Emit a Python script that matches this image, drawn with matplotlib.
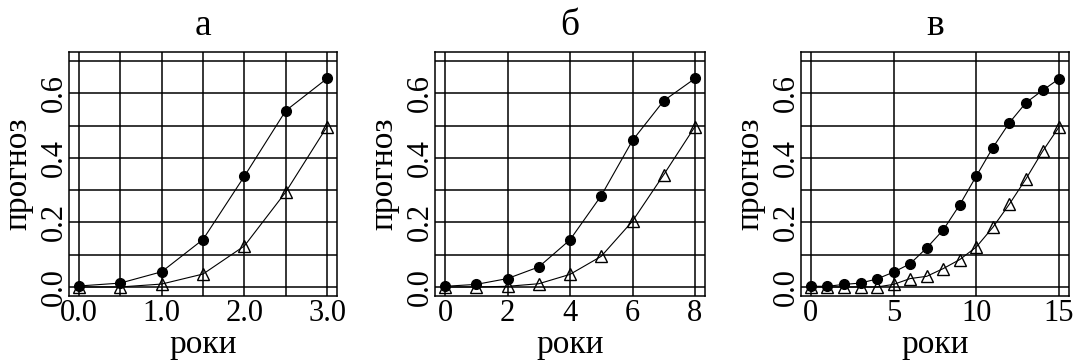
import matplotlib
matplotlib.use("Agg")
import matplotlib.pyplot as plt
from matplotlib.ticker import FixedLocator, FixedFormatter

plt.rcParams['font.family'] = ['Liberation Serif', 'DejaVu Serif']

titles = ["а", "б", "в"]
xlabel = "роки"
ylabel = "прогноз"

years_a = [0.0, 0.5, 1.0, 1.5, 2.0, 2.5, 3.0]
circ_a = [0.003, 0.012, 0.047, 0.147, 0.343, 0.546, 0.646]
tri_a = [0.0, 0.0, 0.009, 0.040, 0.127, 0.294, 0.497]

years_b = [0, 1, 2, 3, 4, 5, 6, 7, 8]
circ_b = [0.002, 0.008, 0.026, 0.062, 0.146, 0.283, 0.454, 0.577, 0.646]
tri_b = [0.0, 0.0, 0.002, 0.010, 0.039, 0.095, 0.204, 0.348, 0.497]

years_c = list(range(16))
circ_c = [0.002, 0.002, 0.008, 0.012, 0.025, 0.046, 0.072, 0.121, 0.177,
          0.255, 0.344, 0.432, 0.509, 0.571, 0.609, 0.645]
tri_c = [0.0, 0.0, 0.0, 0.0, 0.0, 0.008, 0.026, 0.033, 0.057, 0.085,
         0.124, 0.185, 0.257, 0.335, 0.420, 0.496]

xtick_a = [0.0, 1.0, 2.0, 3.0]
xticklabels_a = ["0.0", "1.0", "2.0", "3.0"]
xgrid_a = [0.5, 1.5, 2.5]
xtick_b = [0, 2, 4, 6, 8]
xticklabels_b = ["0", "2", "4", "6", "8"]
xgrid_b = []
xtick_c = [0, 5, 10, 15]
xticklabels_c = ["0", "5", "10", "15"]
xgrid_c = []

ytick = [0.0, 0.2, 0.4, 0.6]
yticklabels = ["0.0", "0.2", "0.4", "0.6"]
ygrid_minor = [0.1, 0.3, 0.5, 0.7]

panels = [
    (years_a, circ_a, tri_a, xtick_a, xticklabels_a, xgrid_a),
    (years_b, circ_b, tri_b, xtick_b, xticklabels_b, xgrid_b),
    (years_c, circ_c, tri_c, xtick_c, xticklabels_c, xgrid_c),
]

W, H = 1073, 360
fig = plt.figure(figsize=(W / 100, H / 100), dpi=100)

boxes = [(69, 337), (435, 705), (801, 1069)]
top_px, bot_px = 52, 296

for i, (x, c, t, xt, xtl, xg) in enumerate(panels):
    l, r = boxes[i]
    wpx = r - l
    hpx = bot_px - top_px
    ax = fig.add_axes([l / W, 1 - bot_px / H, wpx / W, hpx / H])
    xmin, xmax = min(x), max(x)
    rng = xmax - xmin
    ax.set_xlim(xmin - 0.04 * rng, xmax + 0.04 * rng)
    ax.set_ylim(-0.028, 0.728)

    ax.xaxis.set_major_locator(FixedLocator(xt))
    ax.xaxis.set_major_formatter(FixedFormatter(xtl))
    ax.xaxis.set_minor_locator(FixedLocator(xg))
    ax.yaxis.set_major_locator(FixedLocator(ytick))
    ax.yaxis.set_major_formatter(FixedFormatter(yticklabels))
    ax.yaxis.set_minor_locator(FixedLocator(ygrid_minor))

    ax.grid(True, which='both', color='black', linewidth=1.1)
    ax.set_axisbelow(True)
    ax.tick_params(which='both', length=0)
    ax.tick_params(axis='x', labelsize=22, pad=2)
    ax.tick_params(axis='y', labelsize=22, pad=0)
    for lab in ax.get_yticklabels():
        lab.set_rotation(90)
        lab.set_va('center')
    for s in ax.spines.values():
        s.set_linewidth(1.1)
        s.set_color('black')

    ax.plot(x, c, color='black', linewidth=0.8, marker='o', markersize=7,
            markerfacecolor='black', markeredgecolor='black', zorder=3)
    ax.plot(x, t, color='black', linewidth=0.8, marker='^', markersize=8,
            markerfacecolor='none', markeredgecolor='black', markeredgewidth=1.0, zorder=3)

    ax.set_title(titles[i], fontsize=27, pad=12)
    ax.set_xlabel(xlabel, fontsize=24)
    ax.xaxis.set_label_coords(0.5, -(345 - bot_px) / hpx)
    ax.xaxis.label.set_va('center')
    ax.set_ylabel(ylabel, fontsize=24)
    ax.yaxis.set_label_coords(-(l - (l - 43)) / wpx, 0.5)
    ax.yaxis.label.set_va('baseline')

fig.savefig("out.png", dpi=100)
